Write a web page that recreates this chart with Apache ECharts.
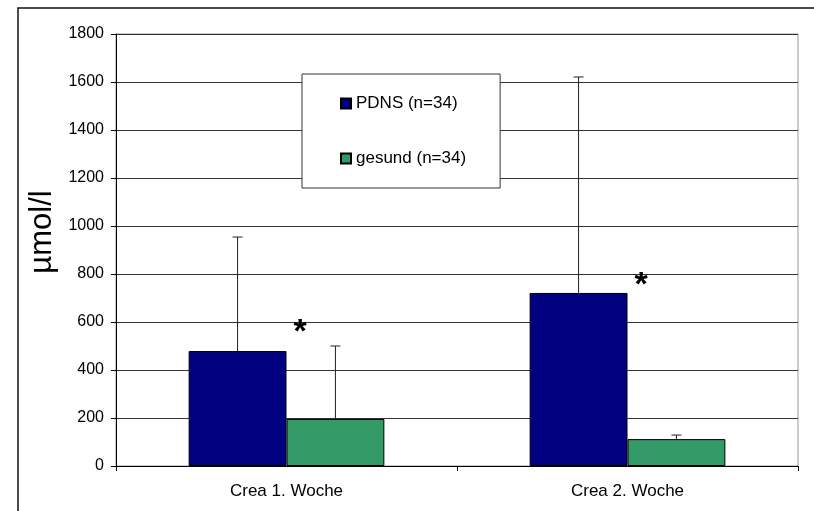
<!DOCTYPE html>
<html>
<head>
<meta charset="utf-8">
<script src="https://cdn.jsdelivr.net/npm/echarts@6/dist/echarts.min.js"></script>
<style>html,body{margin:0;padding:0;background:#fff}#c{width:814px;height:511px}</style>
</head>
<body>
<div id="c"></div>
<script>
const categories = ['Crea 1. Woche', 'Crea 2. Woche'];
const seriesNames = ['PDNS (n=34)', 'gesund (n=34)'];
const pdnsMean = [479, 721];
const pdnsSD = [475, 900];
const gesundMean = [196, 112];
const gesundSD = [304, 17];
const starValues = [580, 775];
const yTicks = [0, 200, 400, 600, 800, 1000, 1200, 1400, 1600, 1800];
const yName = 'µmol/l';

const FONT = 'Liberation Sans, Arial, sans-serif';
const BAR_FRAC = 0.287;

function errItem(side) {
  return function (params, api) {
    const band = api.size([1, 0])[0];
    const c = api.coord([api.value(0), api.value(1)]);
    const top = api.coord([api.value(0), api.value(1) + api.value(2)]);
    const x = c[0] + side * band * BAR_FRAC / 2;
    const style = { stroke: '#222', lineWidth: 1 };
    return {
      type: 'group',
      children: [
        { type: 'line', shape: { x1: x, y1: c[1], x2: x, y2: top[1] }, style: style },
        { type: 'line', shape: { x1: x - 5, y1: top[1], x2: x + 5, y2: top[1] }, style: style }
      ]
    };
  };
}

const chart = echarts.init(document.getElementById('c'), null, { renderer: 'canvas' });
chart.setOption({
  animation: false,
  backgroundColor: '#fff',
  textStyle: { fontFamily: FONT },
  graphic: [{
    type: 'rect', z: -10, silent: true,
    shape: { x: 18, y: 8, width: 820, height: 540 },
    style: { fill: 'none', stroke: '#111', lineWidth: 1.5 }
  }],
  grid: { left: 116, right: 16, top: 34, bottom: 45, show: true, borderColor: '#999', borderWidth: 1, backgroundColor: 'transparent' },
  legend: {
    orient: 'vertical', left: 302, top: 74,
    data: seriesNames,
    backgroundColor: '#fff', borderColor: '#333', borderWidth: 1,
    padding: [21, 34, 21, 38], itemGap: 38, itemWidth: 10, itemHeight: 10,
    icon: 'rect',
    textStyle: { fontSize: 17, color: '#000', fontFamily: FONT }
  },
  xAxis: {
    type: 'category', data: categories,
    axisLine: { lineStyle: { color: '#000' } },
    axisTick: { show: true, length: 5, lineStyle: { color: '#000' } },
    axisLabel: { fontSize: 17, color: '#000', margin: 17, fontFamily: FONT }
  },
  yAxis: {
    type: 'value', min: yTicks[0], max: yTicks[yTicks.length - 1], interval: yTicks[1] - yTicks[0],
    name: yName, nameLocation: 'middle', nameGap: 53, nameRotate: 90,
    nameTextStyle: { fontSize: 31, color: '#000', fontFamily: FONT, padding: [0, 0, 0, 36] },
    axisLine: { show: true, lineStyle: { color: '#000' } },
    axisTick: { show: true, length: 5, lineStyle: { color: '#000' } },
    axisLabel: { fontSize: 16, color: '#000', margin: 12, fontFamily: FONT, formatter: v => String(v) },
    splitLine: { show: true, lineStyle: { color: '#333', width: 1 } }
  },
  series: [
    {
      name: seriesNames[0], type: 'bar', data: pdnsMean,
      barWidth: (BAR_FRAC * 100) + '%', barGap: '0%',
      itemStyle: { color: '#000080', borderColor: '#000', borderWidth: 1 }
    },
    {
      name: seriesNames[1], type: 'bar', data: gesundMean,
      barWidth: (BAR_FRAC * 100) + '%', barGap: '0%',
      itemStyle: { color: '#339966', borderColor: '#000', borderWidth: 1 }
    },
    {
      type: 'custom', silent: true, z: 5,
      data: pdnsMean.map((m, i) => [i, m, pdnsSD[i]]),
      renderItem: errItem(-1)
    },
    {
      type: 'custom', silent: true, z: 5,
      data: gesundMean.map((m, i) => [i, m, gesundSD[i]]),
      renderItem: errItem(1)
    },
    {
      type: 'custom', silent: true, z: 6,
      data: starValues.map((v, i) => [i, v]),
      renderItem: function (params, api) {
        const band = api.size([1, 0])[0];
        const c = api.coord([api.value(0), api.value(1)]);
        return {
          type: 'text',
          style: {
            x: c[0] + band * 0.04, y: c[1] + 6,
            text: '*', fill: '#000',
            font: 'bold 34px ' + FONT,
            align: 'center', verticalAlign: 'middle'
          }
        };
      }
    }
  ]
});
</script>
</body>
</html>
